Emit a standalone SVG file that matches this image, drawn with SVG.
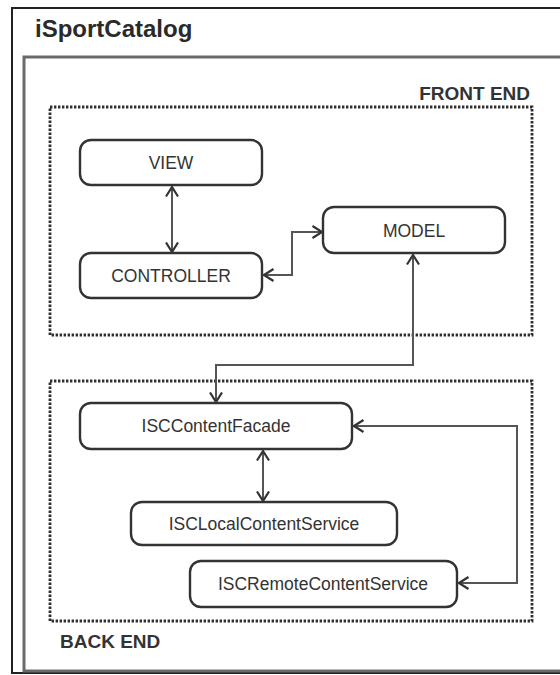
<svg xmlns="http://www.w3.org/2000/svg" width="560" height="675" viewBox="0 0 560 675">
  <style>
    .frame { fill: none; stroke: #222; stroke-width: 2; }
    .inner { fill: none; stroke: #6a6a6a; stroke-width: 3; }
    .zone { fill: none; stroke: #2e2e2e; stroke-width: 2.8; stroke-dasharray: 2.4 1.6; }
    .box { fill: #fff; stroke: #333; stroke-width: 2.4; }
    .label { font-family: "Liberation Sans", Arial, sans-serif; font-size: 17.5px; fill: #333; text-anchor: middle; }
    .zlabel { font-family: "Liberation Sans", Arial, sans-serif; font-size: 19px; font-weight: bold; fill: #333; }
    .title { font-family: "Liberation Sans", Arial, sans-serif; font-size: 24px; font-weight: bold; fill: #2a2a2a; }
    .conn { fill: none; stroke: #555; stroke-width: 2; }
  </style>
  <defs>
    <marker id="arrow" markerUnits="userSpaceOnUse" viewBox="0 0 12 14" markerWidth="12" markerHeight="14" refX="10.5" refY="7" orient="auto-start-reverse">
      <path d="M1,1 L10.5,7 L1,13" fill="none" stroke="#333" stroke-width="2.2"/>
    </marker>
  </defs>

  <rect width="560" height="675" fill="#fff"/>

  <!-- outer application frame -->
  <g id="app-frame">
    <rect class="frame" x="12" y="8" width="600" height="665"/>
    <text class="title" x="35" y="37">iSportCatalog</text>
    <rect class="inner" x="24" y="57" width="600" height="614"/>
  </g>

  <!-- tiers -->
  <g id="front-end">
    <rect class="zone" x="50" y="107" width="482" height="228"/>
    <text class="zlabel" x="530" y="100" text-anchor="end">FRONT END</text>
  </g>
  <g id="back-end">
    <rect class="zone" x="50" y="381" width="482" height="240"/>
    <text class="zlabel" x="60" y="648">BACK END</text>
  </g>

  <!-- nodes -->
  <g id="view">
    <rect class="box" x="80" y="140" width="182" height="45" rx="11"/>
    <text class="label" x="171" y="169">VIEW</text>
  </g>
  <g id="controller">
    <rect class="box" x="80" y="253" width="182" height="45" rx="11"/>
    <text class="label" x="171" y="282">CONTROLLER</text>
  </g>
  <g id="model">
    <rect class="box" x="323" y="207" width="182" height="46" rx="11"/>
    <text class="label" x="414" y="237">MODEL</text>
  </g>
  <g id="content-facade">
    <rect class="box" x="80" y="403" width="272" height="46" rx="11"/>
    <text class="label" x="216" y="432">ISCContentFacade</text>
  </g>
  <g id="local-content-service">
    <rect class="box" x="131" y="502" width="266" height="43" rx="11"/>
    <text class="label" x="264" y="530">ISCLocalContentService</text>
  </g>
  <g id="remote-content-service">
    <rect class="box" x="190" y="561" width="267" height="46" rx="11"/>
    <text class="label" x="323" y="590">ISCRemoteContentService</text>
  </g>

  <!-- connectors -->
  <g id="connectors">
    <path class="conn" d="M172,187 V252" marker-start="url(#arrow)" marker-end="url(#arrow)"/>
    <path class="conn" d="M264,275 H292 V232 H322" marker-start="url(#arrow)" marker-end="url(#arrow)"/>
    <path class="conn" d="M413,255 V365 H216 V402" marker-start="url(#arrow)" marker-end="url(#arrow)"/>
    <path class="conn" d="M263,451 V501" marker-start="url(#arrow)" marker-end="url(#arrow)"/>
    <path class="conn" d="M354,426 H517 V583 H459" marker-start="url(#arrow)" marker-end="url(#arrow)"/>
  </g>
</svg>
